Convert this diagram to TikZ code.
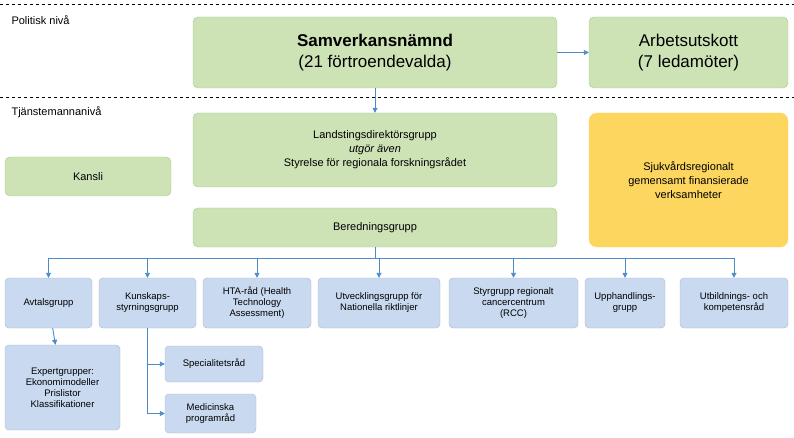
\documentclass[tikz,border=0pt]{standalone}
\usepackage{fontspec}
\setmainfont{Liberation Sans}
\usetikzlibrary{arrows.meta}
\definecolor{gfill}{HTML}{CDE3B6}
\definecolor{gdraw}{HTML}{A9C88C}
\definecolor{bfill}{HTML}{C9DAF0}
\definecolor{bdraw}{HTML}{A8B8CC}
\definecolor{yfill}{HTML}{FDD65F}
\definecolor{arr}{HTML}{4A8CC8}
\begin{document}
\begin{tikzpicture}[x=1pt,y=-1pt,
 gbox/.style={draw=gdraw,fill=gfill,rounded corners=5pt,align=center,inner sep=0pt},
 bbox/.style={draw=bdraw,fill=bfill,rounded corners=4pt,align=center,inner sep=0pt,font=\fontsize{9.5}{11}\selectfont},
 ar/.style={draw=arr,line width=0.9pt,-{Triangle[length=5pt,width=5pt]}},
 ln/.style={draw=arr,line width=0.9pt}]
\useasboundingbox (0,0) rectangle (794,438);
\draw[dashed,line width=0.6pt] (0,4) -- (794,4);
\draw[dashed,line width=0.6pt] (0,97) -- (794,97);
\node[anchor=west,font=\fontsize{11}{13}\selectfont] at (8,20) {Politisk nivå};
\node[anchor=west,font=\fontsize{11}{13}\selectfont] at (8,112) {Tjänstemannanivå};
\node[gbox,minimum width=364,minimum height=71,font=\fontsize{17}{21}\selectfont] (sam) at (375,52.5) {\textbf{Samverkansnämnd}\\(21 förtroendevalda)};
\node[gbox,minimum width=199,minimum height=71,font=\fontsize{17}{21}\selectfont] (au) at (688.5,52.5) {Arbetsutskott\\(7 ledamöter)};
\node[gbox,minimum width=364,minimum height=74,font=\fontsize{11}{14}\selectfont] (ld) at (375,150) {Landstingsdirektörsgrupp\\\textit{utgör även}\\Styrelse för regionala forskningsrådet};
\node[gbox,minimum width=166,minimum height=39,font=\fontsize{11}{14}\selectfont] (ka) at (88,176.5) {Kansli};
\node[draw=yfill,fill=yfill,rounded corners=8pt,minimum width=199,minimum height=134,align=center,inner sep=0pt,font=\fontsize{11}{14}\selectfont] (sj) at (688.5,180) {Sjukvårdsregionalt\\gemensamt finansierade\\verksamheter};
\node[gbox,minimum width=364,minimum height=39,font=\fontsize{11}{14}\selectfont] (be) at (375,227.5) {Beredningsgrupp};
\node[bbox,minimum width=87,minimum height=50] (b1) at (48.5,303) {Avtalsgrupp};
\node[bbox,minimum width=97,minimum height=50] (b2) at (147.5,303) {Kunskaps-\\styrningsgrupp};
\node[bbox,minimum width=108,minimum height=50] (b3) at (257,303) {HTA-råd (Health\\Technology\\Assessment)};
\node[bbox,minimum width=122,minimum height=50] (b4) at (379,303) {Utvecklingsgrupp för\\Nationella riktlinjer};
\node[bbox,minimum width=129,minimum height=50] (b5) at (513.5,303) {Styrgrupp regionalt\\cancercentrum\\(RCC)};
\node[bbox,minimum width=80,minimum height=50] (b6) at (625,303) {Upphandlings-\\grupp};
\node[bbox,minimum width=108,minimum height=50] (b7) at (734,303) {Utbildnings- och\\kompetensråd};
\node[bbox,minimum width=115,minimum height=85] (ex) at (62.5,387.5) {Expertgrupper:\\Ekonomimodeller\\Prislistor\\Klassifikationer};
\node[bbox,minimum width=98,minimum height=36] (sp) at (214,364) {Specialitetsråd};
\node[bbox,minimum width=91,minimum height=39] (me) at (210.5,413.5) {Medicinska\\programråd};
\draw[ar] (sam) -- (au);
\draw[ar] (sam) -- (ld);
\coordinate (bus) at (375,258);
\draw[ln] (be.south) -- (bus);
\draw[ln] (b1.north |- bus) -- (b7.north |- bus);
\foreach \b in {b1,b2,b3,b4,b5,b6,b7} \draw[ar] (\b.north |- bus) -- (\b.north);
\draw[ar] (b1) -- (ex);
\coordinate (kd) at (147.5,413.5);
\draw[ln] (b2.south) -- (kd);
\draw[ar] (147.5,364) -- (sp.west);
\draw[ar] (kd) -- (me.west);
\end{tikzpicture}
\end{document}
